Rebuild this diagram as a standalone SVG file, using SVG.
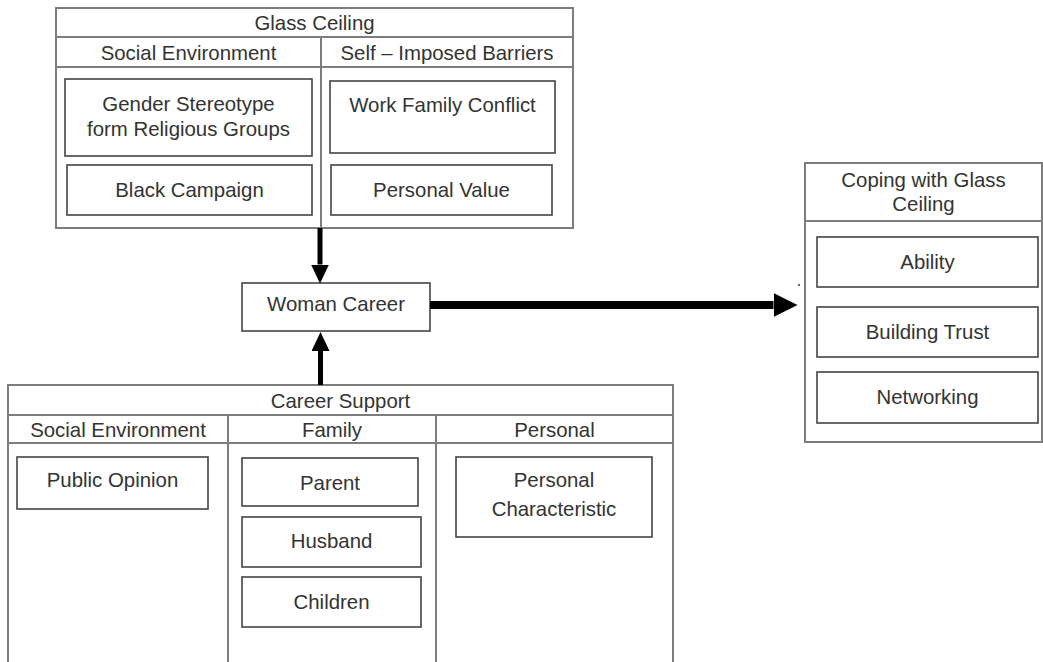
<svg xmlns="http://www.w3.org/2000/svg" width="1043" height="662" viewBox="0 0 1043 662">
  <style>
    text { font-family: "Liberation Sans", Arial, sans-serif; font-size: 20.4px; fill: #333; text-anchor: middle; }
    .frame { fill: #fff; stroke: #7d7d7d; stroke-width: 2; }
    .rule { fill: none; stroke: #7d7d7d; stroke-width: 2; }
    .item { fill: #fff; stroke: #444; stroke-width: 1.6; }
    .conn { fill: none; stroke: #000; }
  </style>
  <defs>
    <marker id="head-s" markerUnits="userSpaceOnUse" markerWidth="19" markerHeight="18" refX="0" refY="9" orient="auto">
      <path d="M0,0 L19,9 L0,18 Z" fill="#000"/>
    </marker>
    <marker id="head-l" markerUnits="userSpaceOnUse" markerWidth="24" markerHeight="24" refX="0" refY="12" orient="auto">
      <path d="M0,0 L24,12 L0,24 Z" fill="#000"/>
    </marker>
  </defs>

  <rect width="1043" height="662" fill="#fff"/>

  <!-- Glass ceiling table -->
  <g id="glass-ceiling">
    <rect class="frame" x="56" y="8" width="517" height="220"/>
    <line class="rule" x1="56" y1="37" x2="573" y2="37"/>
    <line class="rule" x1="56" y1="67" x2="573" y2="67"/>
    <line class="rule" x1="321" y1="37" x2="321" y2="228"/>
    <text x="314.5" y="30">Glass Ceiling</text>
    <text x="188.5" y="60">Social Environment</text>
    <text x="447" y="60">Self – Imposed Barriers</text>
  </g>
  <g id="gender-stereotype">
    <rect class="item" x="65" y="79" width="247" height="77"/>
    <text x="188.5" y="111">Gender Stereotype</text>
    <text x="188.5" y="136">form Religious Groups</text>
  </g>
  <g id="black-campaign">
    <rect class="item" x="67" y="165" width="245" height="50"/>
    <text x="189.5" y="197">Black Campaign</text>
  </g>
  <g id="work-family-conflict">
    <rect class="item" x="330" y="81" width="225" height="72"/>
    <text x="442.5" y="112">Work Family Conflict</text>
  </g>
  <g id="personal-value">
    <rect class="item" x="331" y="165" width="221" height="50"/>
    <text x="441.5" y="197">Personal Value</text>
  </g>

  <!-- Central node -->
  <g id="woman-career">
    <rect class="item" x="242" y="283" width="188" height="48"/>
    <text x="336" y="311">Woman Career</text>
  </g>

  <!-- Coping table -->
  <g id="coping">
    <rect class="frame" x="805" y="163" width="237" height="279"/>
    <line class="rule" x1="805" y1="221" x2="1042" y2="221"/>
    <text x="923.5" y="187">Coping with Glass</text>
    <text x="923.5" y="211">Ceiling</text>
  </g>
  <g id="ability">
    <rect class="item" x="817" y="237" width="221" height="50"/>
    <text x="927.5" y="269">Ability</text>
  </g>
  <g id="building-trust">
    <rect class="item" x="817" y="307" width="221" height="50"/>
    <text x="927.5" y="339">Building Trust</text>
  </g>
  <g id="networking">
    <rect class="item" x="817" y="372" width="221" height="51"/>
    <text x="927.5" y="404">Networking</text>
  </g>

  <!-- Career support table -->
  <g id="career-support">
    <path class="frame" d="M8,670 V385 H673 V670"/>
    <line class="rule" x1="8" y1="415" x2="673" y2="415"/>
    <line class="rule" x1="8" y1="443" x2="673" y2="443"/>
    <line class="rule" x1="228" y1="415" x2="228" y2="670"/>
    <line class="rule" x1="436" y1="415" x2="436" y2="670"/>
    <text x="340.5" y="408">Career Support</text>
    <text x="118" y="437">Social Environment</text>
    <text x="332" y="437">Family</text>
    <text x="554.5" y="437">Personal</text>
  </g>
  <g id="public-opinion">
    <rect class="item" x="17" y="457" width="191" height="52"/>
    <text x="112.5" y="487">Public Opinion</text>
  </g>
  <g id="parent">
    <rect class="item" x="242" y="458" width="176" height="48"/>
    <text x="330" y="490">Parent</text>
  </g>
  <g id="husband">
    <rect class="item" x="242" y="517" width="179" height="50"/>
    <text x="331.5" y="548">Husband</text>
  </g>
  <g id="children">
    <rect class="item" x="242" y="577" width="179" height="50"/>
    <text x="331.5" y="609">Children</text>
  </g>
  <g id="personal-characteristic">
    <rect class="item" x="456" y="457" width="196" height="80"/>
    <text x="554" y="487">Personal</text>
    <text x="554" y="516">Characteristic</text>
  </g>

  <!-- Connectors -->
  <g id="connectors">
    <line class="conn" x1="320" y1="228" x2="320" y2="264.5" stroke-width="5" marker-end="url(#head-s)"/>
    <line class="conn" x1="320.5" y1="385" x2="320.5" y2="351" stroke-width="5" marker-end="url(#head-s)"/>
    <line class="conn" x1="430" y1="305" x2="773.5" y2="305" stroke-width="8" marker-end="url(#head-l)"/>
  </g>
  <circle cx="799" cy="285" r="1.2" fill="#666"/>
</svg>
